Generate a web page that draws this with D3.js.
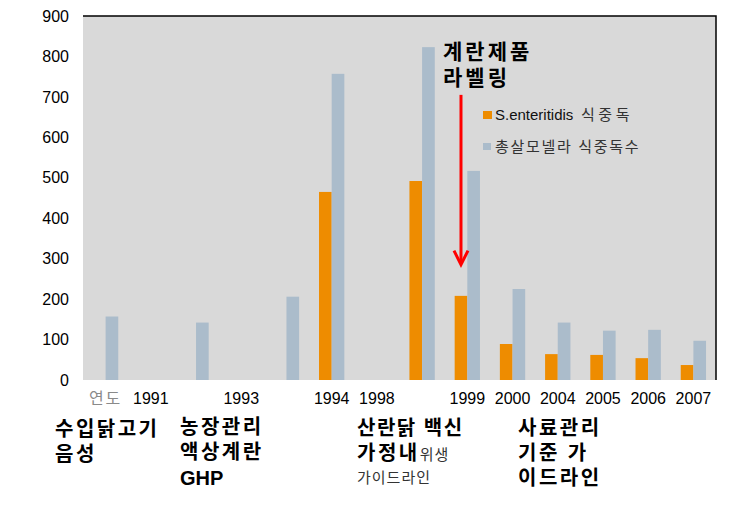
<!DOCTYPE html>
<meta charset="utf-8">
<script src="https://d3js.org/d3.v7.min.js"></script>
<style>
  body { margin: 0; background: #fff; }
  text { font-family: "Liberation Sans", "Noto Sans CJK KR", sans-serif; }
</style>
<div id="chart"></div>

<script>
// categories along the x axis (some slots have no label)
const years = ["연도", "1991", "", "1993", "", "1994", "1998", "", "1999", "2000", "2004", "2005", "2006", "2007"];
// S.enteritidis food poisoning
const seCases = [null, null, null, null, null, 465, null, 492, 208, 89, 64, 62, 54, 37];
// total salmonella food poisoning
const totalCases = [157, null, 142, null, 206, 757, null, 823, 517, 225, 142, 122, 124, 97];
const yTicks = [0, 100, 200, 300, 400, 500, 600, 700, 800, 900];
const seriesNames = [["S.enteritidis", " 식중독"], ["", "총살모넬라 식중독수"]];

const W = 750, H = 526;
const margin = {top: 16, right: 34, bottom: 146, left: 83},
      width = W - margin.left - margin.right,
      height = H - margin.top - margin.bottom;

const colors = {se: "#ee8c00", total: "#abbccb"};

const svg = d3.select("#chart")
  .append("svg")
  .attr("width", W)
  .attr("height", H);

const g = svg.append("g")
  .attr("transform", `translate(${margin.left},${margin.top})`);

// plot background + frame on top and right
g.append("rect")
  .attr("width", width)
  .attr("height", height)
  .attr("fill", "#d9d9d9");
g.append("path")
  .attr("d", `M0,0H${width}V${height}`)
  .attr("fill", "none")
  .attr("stroke", "#000")
  .attr("stroke-width", 1.5);

const x = d3.scaleBand()
  .domain(d3.range(years.length))
  .range([0, width])
  .paddingInner(0.44)
  .paddingOuter(0.22);

const x1 = d3.scaleBand()
  .domain(["se", "total"])
  .range([0, x.bandwidth()]);

const y = d3.scaleLinear()
  .domain([0, 900])
  .range([height, 0]);

// y axis
const yAxis = g.append("g")
  .call(d3.axisLeft(y).tickValues(yTicks).tickSize(0).tickPadding(14));
yAxis.select(".domain").remove();
yAxis.selectAll("text")
  .style("font-size", "16px")
  .style("font-family", "Liberation Sans")
  .attr("fill", "#000");

// x axis labels
const xAxis = g.append("g")
  .attr("transform", `translate(0,${height})`)
  .call(d3.axisBottom(x).tickFormat(i => years[i]).tickSize(0).tickPadding(13));
xAxis.select(".domain").remove();
xAxis.selectAll("text")
  .style("font-size", "16px")
  .attr("fill", i => i === 0 ? "#8a8a8a" : "#000")
  .style("letter-spacing", i => i === 0 ? "2px" : "0px");

// bars
const rows = years.map((d, i) => ({i, se: seCases[i], total: totalCases[i]}));

g.append("g")
  .selectAll("g")
  .data(rows)
  .join("g")
    .attr("transform", d => `translate(${x(d.i)},0)`)
  .selectAll("rect")
  .data(d => ["se", "total"].filter(k => d[k] != null).map(k => ({key: k, value: d[k]})))
  .join("rect")
    .attr("x", d => x1(d.key))
    .attr("y", d => y(d.value))
    .attr("width", x1.bandwidth())
    .attr("height", d => height - y(d.value))
    .attr("fill", d => colors[d.key]);

// legend
const legend = g.append("g")
  .attr("transform", `translate(${483 - margin.left},${99 - margin.top})`);
["se", "total"].forEach((k, j) => {
  const row = legend.append("g").attr("transform", `translate(0,${j * 32})`);
  row.append("rect")
    .attr("x", 0).attr("y", 12)
    .attr("width", k === "se" ? 9 : 8)
    .attr("height", k === "se" ? 8 : 7)
    .attr("fill", colors[k]);
  const t = row.append("text")
    .attr("x", 12).attr("y", 16)
    .attr("dy", "0.35em")
    .style("font-size", "15px")
    .attr("fill", "#111");
  t.append("tspan").text(seriesNames[j][0]);
  t.append("tspan")
    .style("letter-spacing", j === 0 ? "3.5px" : "1.7px")
    .attr("fill", "#333")
    .text(seriesNames[j][1]);
});

// arrow for egg product labelling
const ax = x(8) + x1("se") + x1.bandwidth() / 2;
g.append("line")
  .attr("x1", ax).attr("x2", ax)
  .attr("y1", y(705)).attr("y2", y(287))
  .attr("stroke", "#ff0000")
  .attr("stroke-width", 3);
g.append("path")
  .attr("d", `M${ax - 7},${y(320)}L${ax},${y(285)}L${ax + 7},${y(320)}`)
  .attr("fill", "none")
  .attr("stroke", "#ff0000")
  .attr("stroke-width", 3);

function note(xp, yp, txt, style) {
  const t = svg.append("text").attr("x", xp).attr("y", yp).text(txt);
  Object.entries(style).forEach(([k, v]) => t.style(k, v));
  return t;
}

const title = {"font-size": "21px", "font-weight": "bold", "fill": "#000", "letter-spacing": "3px"};
note(443, 59, "계란제품", title);
note(443, 85, "라벨링", title);

// notes below the axis
const b20 = {"font-size": "20px", "font-weight": "bold", "fill": "#000", "letter-spacing": "2.5px"};
const small = {"font-size": "15px", "fill": "#333", "letter-spacing": "1px"};

note(55, 436, "수입닭고기", b20);
note(55, 461, "음성", b20);

note(180, 434, "농장관리", b20);
note(180, 459, "액상계란", b20);
note(180, 485, "GHP", {"font-size": "20px", "font-weight": "bold", "fill": "#000"});

note(357, 435, "산란닭 백신", Object.assign({}, b20, {"letter-spacing": "1.5px"}));
const t2 = note(357, 460, "가정내", b20);
t2.append("tspan").style("font-size", "15px").style("font-weight", "normal").style("letter-spacing", "1px").attr("fill", "#333").text("위생");
note(357, 483, "가이드라인", small);

note(518, 435, "사료관리", b20);
note(518, 460, "기준 가", b20);
note(518, 485, "이드라인", b20);
</script>
